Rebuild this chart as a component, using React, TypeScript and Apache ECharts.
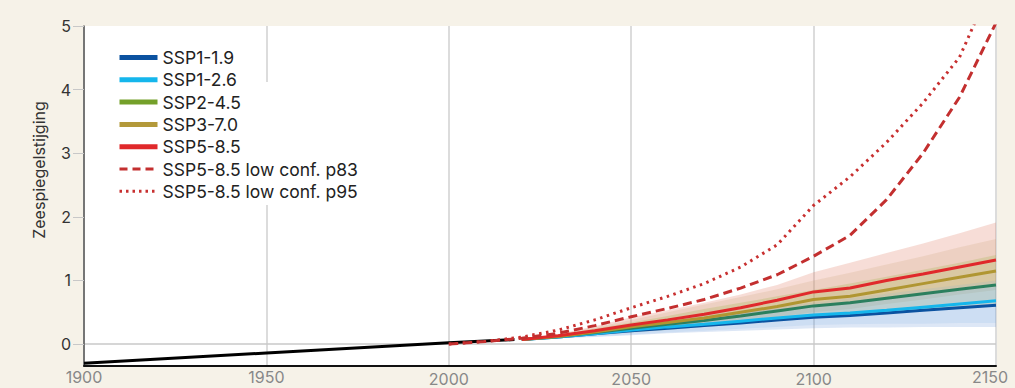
import React, { useEffect, useRef } from "react";
import * as echarts from "echarts";

// Historical (black)
const histYears = [1900, 1950, 2000, 2018];
const histValues = [-0.3, -0.14, 0.02, 0.07];

// Projections (central lines)
const projYears = [2020, 2030, 2040, 2050, 2060, 2070, 2080, 2090, 2100, 2110, 2120, 2130, 2140, 2150];
const ssp119 = [0.07, 0.11, 0.16, 0.21, 0.25, 0.29, 0.33, 0.38, 0.42, 0.45, 0.49, 0.53, 0.57, 0.61];
const ssp126 = [0.07, 0.11, 0.16, 0.22, 0.27, 0.31, 0.36, 0.41, 0.455, 0.49, 0.53, 0.58, 0.63, 0.68];
const ssp245 = [0.07, 0.12, 0.18, 0.25, 0.31, 0.37, 0.44, 0.52, 0.6, 0.65, 0.72, 0.79, 0.86, 0.93];
const ssp370 = [0.07, 0.12, 0.19, 0.27, 0.34, 0.41, 0.5, 0.59, 0.7, 0.75, 0.85, 0.95, 1.05, 1.15];
const ssp585 = [0.07, 0.13, 0.21, 0.3, 0.38, 0.47, 0.57, 0.69, 0.82, 0.88, 1.0, 1.1, 1.21, 1.32];

// Likely ranges (bands)
const b119Lo = [0.07, 0.09, 0.11, 0.14, 0.17, 0.19, 0.21, 0.23, 0.25, 0.26, 0.26, 0.27, 0.27, 0.27];
const b119Hi = [0.07, 0.14, 0.21, 0.28, 0.35, 0.42, 0.49, 0.55, 0.6, 0.66, 0.72, 0.78, 0.84, 0.9];
const b126Lo = [0.07, 0.09, 0.12, 0.15, 0.18, 0.21, 0.24, 0.27, 0.3, 0.31, 0.32, 0.32, 0.33, 0.33];
const b126Hi = [0.07, 0.14, 0.22, 0.3, 0.37, 0.45, 0.52, 0.59, 0.65, 0.72, 0.79, 0.86, 0.93, 1.0];
const b245Lo = [0.07, 0.1, 0.14, 0.18, 0.22, 0.27, 0.32, 0.37, 0.42, 0.45, 0.49, 0.53, 0.56, 0.6];
const b245Hi = [0.07, 0.15, 0.24, 0.34, 0.44, 0.55, 0.65, 0.75, 0.85, 0.95, 1.06, 1.17, 1.28, 1.4];
const b370Lo = [0.07, 0.1, 0.15, 0.2, 0.25, 0.31, 0.37, 0.43, 0.5, 0.55, 0.63, 0.7, 0.78, 0.85];
const b370Hi = [0.07, 0.15, 0.26, 0.38, 0.5, 0.62, 0.74, 0.86, 1.0, 1.12, 1.25, 1.38, 1.52, 1.65];
const b585Lo = [0.07, 0.11, 0.16, 0.22, 0.28, 0.35, 0.43, 0.51, 0.6, 0.66, 0.73, 0.8, 0.88, 0.95];
const b585Hi = [0.07, 0.16, 0.28, 0.42, 0.53, 0.65, 0.78, 0.93, 1.13, 1.28, 1.43, 1.58, 1.74, 1.91];

// Low-confidence SSP5-8.5
const lowConfYears = [2000, 2010, 2020, 2030, 2040, 2050, 2060, 2070, 2080, 2090, 2100, 2110, 2120, 2130, 2140, 2150];
const p83 = [0, 0.04, 0.09, 0.17, 0.29, 0.43, 0.56, 0.7, 0.88, 1.09, 1.38, 1.71, 2.27, 3.0, 3.88, 5.05];
const p95 = [0, 0.04, 0.11, 0.22, 0.38, 0.57, 0.75, 0.95, 1.21, 1.56, 2.18, 2.63, 3.17, 3.79, 4.51, 5.8];

// Axis ticks
const yTicks = [0, 1, 2, 3, 4, 5];

const FONT = "Inter, 'Liberation Sans', Arial, sans-serif";

const pairs = (xs: number[], ys: number[]) => xs.map((x, i) => [x, ys[i]]);

function bandSeries(id: string, lo: number[], hi: number[], color: string) {
  return {
    name: id,
    type: "custom",
    silent: true,
    z: 1,
    data: projYears.map((y, i) => [y, lo[i], hi[i]]),
    encode: { x: 0, y: [1, 2] },
    renderItem: (params: any, api: any) => {
      if (params.dataIndex !== 0) return null;
      const top = projYears.map((y, i) => api.coord([y, hi[i]]));
      const bottom = projYears.map((y, i) => api.coord([y, lo[i]])).reverse();
      return {
        type: "polygon",
        shape: { points: top.concat(bottom) },
        style: { fill: color },
      };
    },
  };
}

const lineDefs = [
  { name: "SSP1-1.9", values: ssp119, color: "#0b52a0", legendColor: "#0b52a0" },
  { name: "SSP1-2.6", values: ssp126, color: "#15b6ec", legendColor: "#15b6ec" },
  { name: "SSP2-4.5", values: ssp245, color: "#2b7f5e", legendColor: "#74a02a" },
  { name: "SSP3-7.0", values: ssp370, color: "#b09632", legendColor: "#b3993a" },
  { name: "SSP5-8.5", values: ssp585, color: "#e0292b", legendColor: "#e0292b" },
];

export default function App() {
  const ref = useRef<HTMLDivElement>(null);

  useEffect(() => {
    if (!ref.current) return;
    const chart = echarts.init(ref.current, null, { renderer: "svg" });

    const series: any[] = [
      bandSeries("b585", b585Lo, b585Hi, "rgba(225,120,95,0.25)"),
      bandSeries("b370", b370Lo, b370Hi, "rgba(200,160,110,0.2)"),
      bandSeries("b245", b245Lo, b245Hi, "rgba(165,180,80,0.28)"),
      bandSeries("b126", b126Lo, b126Hi, "rgba(100,170,230,0.13)"),
      bandSeries("b119", b119Lo, b119Hi, "rgba(100,145,215,0.22)"),
      {
        name: "historisch",
        type: "line",
        data: pairs(histYears, histValues),
        symbol: "none",
        lineStyle: { color: "#000", width: 3 },
        z: 3,
        markLine: {
          silent: true,
          symbol: "none",
          label: { show: false },
          lineStyle: { color: "#c8c8c8", width: 1.5, type: "solid" },
          data: [{ yAxis: 0 }],
          z: 0,
        },
      },
      ...lineDefs.map((d) => ({
        name: d.name,
        type: "line",
        data: pairs(projYears, d.values),
        symbol: "none",
        lineStyle: { color: d.color, width: 3 },
        itemStyle: { color: d.legendColor },
        z: 4,
      })),
      {
        name: "SSP5-8.5 low conf. p83",
        type: "line",
        data: pairs(lowConfYears, p83),
        symbol: "none",
        lineStyle: { color: "#c32f2f", width: 3, type: [9, 5] },
        itemStyle: { color: "#c32f2f" },
        z: 5,
      },
      {
        name: "SSP5-8.5 low conf. p95",
        type: "line",
        data: pairs(lowConfYears, p95),
        symbol: "none",
        lineStyle: { color: "#c83030", width: 3, type: [2.5, 4.5] },
        itemStyle: { color: "#c83030" },
        z: 5,
      },
    ];

    const option: any = {
      animation: false,
      backgroundColor: "#f6f2e8",
      textStyle: { fontFamily: FONT },
      grid: {
        left: 84,
        right: 19,
        top: 26,
        bottom: 22,
        show: true,
        backgroundColor: "#ffffff",
        borderWidth: 0,
        containLabel: false,
      },
      legend: {
        orient: "vertical",
        left: 117,
        top: 48.5,
        padding: 0,
        itemWidth: 38,
        itemHeight: 14,
        itemGap: 4.3,
        selectedMode: false,
        textStyle: { fontSize: 17.5, color: "#222", fontFamily: FONT, lineHeight: 16 },
        data: [
          ...lineDefs.map((d) => ({
            name: d.name,
            lineStyle: { color: d.legendColor, width: 5, type: "solid" },
            itemStyle: { opacity: 0 },
          })),
          {
            name: "SSP5-8.5 low conf. p83",
            lineStyle: { color: "#c32f2f", width: 3, type: [8, 5] },
            itemStyle: { opacity: 0 },
          },
          {
            name: "SSP5-8.5 low conf. p95",
            lineStyle: { color: "#c83030", width: 3, type: [2.5, 4] },
            itemStyle: { opacity: 0 },
          },
        ],
      },
      xAxis: {
        type: "value",
        min: 1900,
        max: 2150,
        interval: 50,
        axisLine: { show: true, onZero: false, lineStyle: { color: "#111", width: 2 } },
        axisTick: { show: false },
        splitLine: { show: true, lineStyle: { color: "#dcdcdc", width: 2 } },
        axisLabel: {
          color: "#888",
          fontSize: 16,
          margin: 3,
          fontFamily: FONT,
          formatter: (v: number) => {
            const cls = v <= 1950 ? "a" : v === 2150 ? "c" : "b";
            return `{${cls}|${v}}`;
          },
          rich: {
            a: { color: "#888", fontSize: 16, fontFamily: FONT, padding: [0, 0, 0, 0] },
            b: { color: "#888", fontSize: 16, fontFamily: FONT, padding: [2, 0, 0, 0] },
            c: { color: "#888", fontSize: 16, fontFamily: FONT, padding: [0, 12, 0, 0] },
          },
        },
      },
      yAxis: {
        type: "value",
        min: -0.345,
        max: 5,
        axisLine: { show: true, onZero: false, lineStyle: { color: "#555", width: 1.5 } },
        axisTick: {
          show: true,
          length: 11,
          customValues: yTicks,
          lineStyle: { color: "#c8c8c8", width: 1 },
        },
        axisLabel: {
          color: "#333",
          fontSize: 16,
          margin: 13,
          fontFamily: FONT,
          customValues: yTicks,
        },
        splitLine: { show: false },
      },
      graphic: [
        {
          type: "rect",
          z: 3,
          shape: { x: 262, y: 82, width: 10, height: 123 },
          style: { fill: "#ffffff" },
          silent: true,
        },
        {
          type: "text",
          x: 39,
          y: 170,
          rotation: Math.PI / 2,
          style: {
            text: "Zeespiegelstijging",
            fill: "#333",
            fontSize: 16,
            fontFamily: FONT,
            align: "center",
            verticalAlign: "middle",
          },
        },
      ],
      series,
    };
    chart.setOption(option);
    return () => chart.dispose();
  }, []);

  return (
    <div style={{ position: "fixed", left: 0, top: 0, width: 1015, height: 388, background: "#f6f2e8" }}>
      <div ref={ref} style={{ width: 1015, height: 388 }} />
    </div>
  );
}
